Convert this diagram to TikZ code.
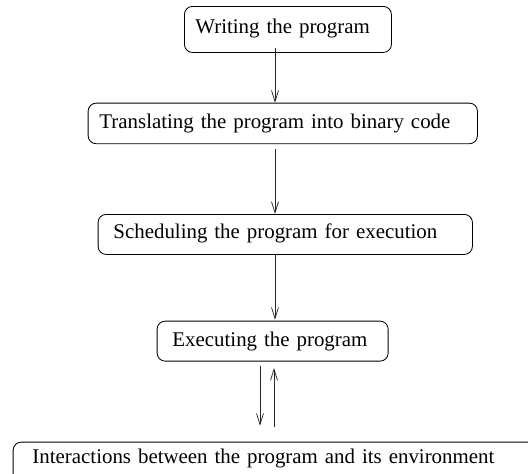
\documentclass[tikz,border=0pt]{standalone}
\usepackage{fontspec}
\setmainfont{Liberation Serif}
\usetikzlibrary{arrows.meta}
\begin{document}
\begin{tikzpicture}[x=1pt,y=-1pt,
  stage/.style={draw, line width=0.85pt, rounded corners=8pt, anchor=north west,
    align=left, inner ysep=0pt, text depth=4pt,
    font=\fontsize{20.9}{25}\selectfont},
  flow/.style={draw=black!85, line width=0.75pt,
    -{Straight Barb[length=11pt,width=7pt,line width=0.75pt]}}]
\useasboundingbox (0,0) rectangle (528,474);
\clip (0,0) rectangle (528,474);

% processing stages
\node[stage, text height=11.4pt, minimum height=46pt, inner xsep=11pt, text width=185pt]
  (write) at (184,6) {Writing the program};
\node[stage, text height=14.6pt, minimum height=40.6pt, inner xsep=11.3pt, text width=366.7pt]
  (trans) at (87.7,102.7) {Translating the program into binary code};
\node[stage, text height=12.6pt, minimum height=40pt, inner xsep=15.3pt, text width=343.7pt]
  (sched) at (97.7,214) {Scheduling the program for execution};
\node[stage, text height=14.6pt, minimum height=40pt, inner xsep=15.3pt, text width=200.4pt]
  (exec) at (156.7,320.7) {Executing the program};
\node[stage, text height=6.6pt, minimum height=40pt, inner xsep=19.3pt, text width=488.7pt]
  (env) at (12.7,441.7) {Interactions between the program and its environment};

% vertical lines carrying the arrows
\coordinate (main) at (275,0);
\coordinate (down) at (260,0);
\coordinate (up) at (274,0);

\draw[flow] ([yshift=5pt]write.south -| main) -- (trans.north -| main);
\draw[flow] ([yshift=-4.7pt]trans.south -| main) -- (sched.north -| main);
\draw[flow] (sched.south -| main) -- ([yshift=1pt]exec.north -| main);
\draw[flow] ([yshift=-4pt]exec.south -| down) -- ([yshift=16pt]env.north -| down);
\draw[flow] ([yshift=15pt]env.north -| up) -- ([yshift=-6.5pt]exec.south -| up);
\end{tikzpicture}
\end{document}
